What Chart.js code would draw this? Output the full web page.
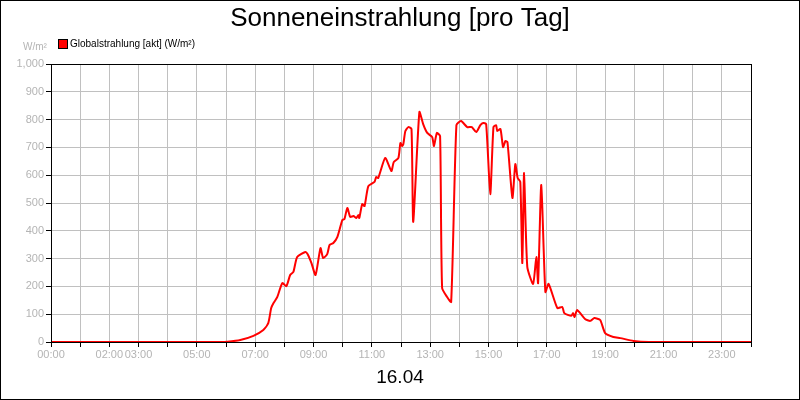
<!DOCTYPE html>
<html>
<head>
<meta charset="utf-8">
<script src="https://cdn.jsdelivr.net/npm/chart.js@4/dist/chart.umd.min.js"></script>
<style>
  body { margin: 0; background: #fff; }
  #wrap { width: 800px; height: 400px; position: relative; }
</style>
</head>
<body>
<div id="wrap"><canvas id="sun" width="800" height="400"></canvas></div>
<script>
// Stunde des Tages
var hours = [0, 3, 5.8, 6.05, 6.49, 6.94, 7.28, 7.45, 7.55, 7.63, 7.76, 7.93, 8.07, 8.2, 8.31, 8.44, 8.72, 8.8, 8.93, 9.07,
  9.24, 9.33, 9.47, 9.55, 9.68, 9.82, 9.99, 10.06, 10.16, 10.26, 10.37, 10.47, 10.54, 10.57, 10.67, 10.75, 10.88, 11.09, 11.15, 11.22,
  11.46, 11.67, 11.75, 11.91, 11.98, 12.04, 12.08, 12.15, 12.25, 12.36, 12.42, 12.63, 12.76, 12.9, 13.07, 13.13, 13.23, 13.34, 13.41, 13.58,
  13.72, 13.9, 14.06, 14.27, 14.43, 14.58, 14.72, 14.82, 14.92, 15.06, 15.17, 15.26, 15.3, 15.41, 15.5, 15.58, 15.65, 15.82, 15.92, 16.0,
  16.09, 16.16, 16.22, 16.33, 16.53, 16.64, 16.7, 16.81, 16.95, 17.06, 17.36, 17.53, 17.6, 17.84, 17.9, 17.95, 18.04, 18.31, 18.49, 18.63,
  18.83, 19.0, 19.28, 19.52, 19.97, 20.5, 22, 24];
// Globalstrahlung [W/m²]
var globalstrahlung = [0, 0, 0, 1, 7, 22, 43, 68, 122, 140, 162, 212, 201, 241, 252, 306, 324, 316, 284, 241,
  338, 302, 316, 349, 356, 378, 439, 442, 482, 450, 453, 446, 457, 446, 496, 489, 561, 576, 594, 590,
  662, 615, 647, 662, 716, 705, 712, 759, 773, 766, 432, 827, 784, 752, 737, 705, 752, 741, 194, 162,
  144, 780, 795, 773, 773, 755, 780, 788, 784, 532, 773, 780, 759, 766, 701, 723, 719, 518, 640, 590,
  576, 284, 608, 270, 209, 306, 212, 565, 180, 209, 122, 126, 104, 94, 104, 90, 115, 83, 76, 86,
  79, 32, 18, 14, 4, 0, 0, 0];
var labelHours = [0, 2, 3, 5, 7, 9, 11, 13, 15, 17, 19, 21, 23];

var points = hours.map(function (h, i) { return { x: h, y: globalstrahlung[i] }; });

function pad(n) { return (n < 10 ? '0' : '') + n; }

var decor = {
  id: 'decor',
  afterDraw: function (chart) {
    var ctx = chart.ctx, a = chart.chartArea;
    ctx.save();
    // Rahmen der Plotfläche
    ctx.strokeStyle = '#000';
    ctx.lineWidth = 1;
    ctx.strokeRect(Math.round(a.left) + 0.5, Math.round(a.top) + 0.5, Math.round(a.right - a.left), Math.round(a.bottom - a.top));
    // äußerer Rahmen
    ctx.strokeRect(0.5, 0.5, 799, 399);
    // Titel
    ctx.fillStyle = '#000';
    ctx.textAlign = 'center';
    ctx.textBaseline = 'middle';
    ctx.font = "26px 'Liberation Sans', Arial, sans-serif";
    ctx.fillText('Sonneneinstrahlung [pro Tag]', 400, 19);
    // Datum
    ctx.font = "19px 'Liberation Sans', Arial, sans-serif";
    ctx.fillText('16.04', 400, 378);
    // Legende
    ctx.fillStyle = '#ff0000';
    ctx.fillRect(59, 40, 8, 8);
    ctx.strokeRect(58.5, 39.5, 9, 9);
    ctx.fillStyle = '#000';
    ctx.textAlign = 'left';
    ctx.font = "10px 'Liberation Sans', Arial, sans-serif";
    ctx.fillText('Globalstrahlung [akt] (W/m²)', 70, 44);
    // Einheit
    ctx.fillStyle = '#b4b4b4';
    ctx.fillText('W/m²', 23, 47);
    ctx.restore();
  }
};

var ctx = document.getElementById('sun').getContext('2d');
var sunChart = new Chart(ctx, {
  type: 'line',
  data: {
    datasets: [{
      data: points,
      borderColor: '#ff0000',
      borderWidth: 2,
      pointRadius: 0,
      tension: 0.2,
      fill: false
    }]
  },
  options: {
    responsive: false,
    animation: false,
    layout: { padding: { top: 64, right: 49, left: 0, bottom: 0 } },
    plugins: { legend: { display: false }, title: { display: false }, tooltip: { enabled: false } },
    scales: {
      x: {
        type: 'linear',
        min: 0,
        max: 24,
        afterFit: function (s) { s.height = 58; },
        grid: { color: '#c0c0c0', tickLength: 5, tickColor: '#000' },
        border: { color: '#000' },
        ticks: {
          stepSize: 1,
          autoSkip: false,
          maxRotation: 0,
          color: '#b4b4b4',
          font: { family: "'Liberation Sans', Arial, sans-serif", size: 11 },
          padding: 1,
          callback: function (v) { return labelHours.indexOf(v) >= 0 ? pad(v) + ':00' : ''; }
        }
      },
      y: {
        min: 0,
        max: 1000,
        afterFit: function (s) { s.width = 51; },
        grid: { color: '#c0c0c0', tickLength: 5, tickColor: '#000' },
        border: { color: '#000' },
        ticks: {
          stepSize: 100,
          color: '#b4b4b4',
          font: { family: "'Liberation Sans', Arial, sans-serif", size: 11 },
          padding: 2
        }
      }
    }
  },
  plugins: [decor]
});
</script>
</body>
</html>
